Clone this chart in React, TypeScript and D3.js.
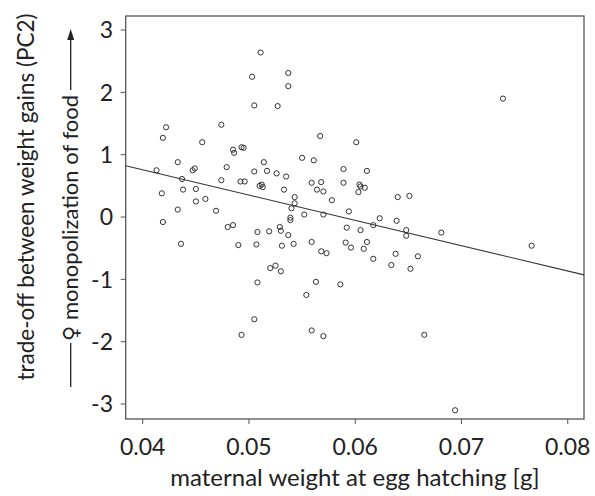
import React from "react";
import * as d3 from "d3";

// maternal weight at egg hatching [g]
const weights: number[] = [
  0.0422, 0.0474, 0.0419, 0.0456, 0.0485, 0.0486, 0.0493, 0.0495, 0.0433, 0.0479,
  0.0413, 0.0447, 0.0449, 0.0437, 0.0474, 0.0492, 0.0496, 0.0418, 0.0438, 0.0450,
  0.0450, 0.0459, 0.0433, 0.0469, 0.0419, 0.0480, 0.0485, 0.0436, 0.0490, 0.0567,
  0.0601, 0.0550, 0.0561, 0.0514, 0.0589, 0.0611, 0.0505, 0.0517, 0.0526, 0.0535,
  0.0510, 0.0512, 0.0513, 0.0559, 0.0568, 0.0589, 0.0604, 0.0609, 0.0603, 0.0605,
  0.0533, 0.0564, 0.0570, 0.0578, 0.0543, 0.0543, 0.0540, 0.0594, 0.0552, 0.0570,
  0.0539, 0.0539, 0.0529, 0.0530, 0.0508, 0.0519, 0.0592, 0.0605, 0.0537, 0.0507,
  0.0531, 0.0542, 0.0559, 0.0591, 0.0596, 0.0608, 0.0611, 0.0568, 0.0573, 0.0520,
  0.0525, 0.0530, 0.0508, 0.0563, 0.0586, 0.0640, 0.0651, 0.0623, 0.0639, 0.0617,
  0.0648, 0.0648, 0.0681, 0.0617, 0.0638, 0.0659, 0.0634, 0.0652, 0.0511, 0.0503,
  0.0537, 0.0537, 0.0505, 0.0527, 0.0505, 0.0493, 0.0554, 0.0559, 0.0570, 0.0665,
  0.0694, 0.0739, 0.0766,
];

// trade-off between weight gains (PC2)
const pc2: number[] = [
  1.44, 1.48, 1.27, 1.20, 1.08, 1.03, 1.12, 1.11, 0.88, 0.80,
  0.75, 0.75, 0.78, 0.61, 0.59, 0.57, 0.57, 0.38, 0.44, 0.45,
  0.25, 0.29, 0.12, 0.10, -0.08, -0.16, -0.13, -0.43, -0.45, 1.30,
  1.20, 0.95, 0.91, 0.88, 0.77, 0.74, 0.73, 0.74, 0.70, 0.65,
  0.50, 0.52, 0.48, 0.55, 0.56, 0.55, 0.52, 0.47, 0.40, 0.49,
  0.44, 0.44, 0.41, 0.27, 0.32, 0.22, 0.14, 0.09, 0.04, 0.04,
  -0.01, -0.05, -0.16, -0.22, -0.24, -0.23, -0.17, -0.21, -0.29, -0.44,
  -0.46, -0.43, -0.40, -0.41, -0.49, -0.51, -0.40, -0.55, -0.58, -0.82,
  -0.78, -0.87, -1.05, -1.04, -1.08, 0.32, 0.34, -0.02, -0.06, -0.13,
  -0.21, -0.30, -0.25, -0.67, -0.59, -0.63, -0.77, -0.83, 2.64, 2.25,
  2.31, 2.10, 1.79, 1.78, -1.64, -1.89, -1.25, -1.82, -1.91, -1.89,
  -3.10, 1.90, -0.46,
];

const xTicks: number[] = [0.04, 0.05, 0.06, 0.07, 0.08];
const yTicks: number[] = [3, 2, 1, 0, -1, -2, -3];

// fitted regression line: PC2 = intercept + slope * weight
const fitIntercept = 2.382;
const fitSlope = -40.6;

const xDomain: [number, number] = [0.0384, 0.08153];
const yDomain: [number, number] = [-3.24, 3.225];

const W = 595;
const H = 496;
const M = { left: 125.7, right: 584, top: 16, bottom: 419 };
const FONT = "Lato, 'Open Sans', sans-serif";
const INK = "#222";

export default function App() {
  const x = d3.scaleLinear().domain(xDomain).range([M.left, M.right]);
  const y = d3.scaleLinear().domain(yDomain).range([M.bottom, M.top]);

  const fitLine = d3
    .line<number>()
    .x((d) => x(d))
    .y((d) => y(fitIntercept + fitSlope * d));

  const pts = weights.map((w, i) => ({ w, v: pc2[i] }));

  const arrowX = 70.7;

  return (
    <svg
      width={W}
      height={H}
      style={{ position: "absolute", left: 0, top: 0, background: "#fff" }}
      fontFamily={FONT}
    >
      <rect x={0} y={0} width={W} height={H} fill="#fff" />
      {/* frame */}
      <rect
        x={M.left}
        y={M.top}
        width={M.right - M.left}
        height={M.bottom - M.top}
        fill="none"
        stroke="#555"
        strokeWidth={1.3}
      />
      {/* regression line */}
      <path d={fitLine(xDomain) || ""} fill="none" stroke="#333" strokeWidth={1.1} />
      {/* points */}
      {pts.map((p, i) => (
        <circle
          key={i}
          cx={x(p.w)}
          cy={y(p.v)}
          r={2.6}
          fill="none"
          stroke="#333"
          strokeWidth={1}
        />
      ))}
      {/* x axis */}
      {xTicks.map((t) => (
        <g key={t}>
          <line x1={x(t)} x2={x(t)} y1={M.bottom} y2={M.bottom + 5} stroke="#555" strokeWidth={1} />
          <text x={x(t)} y={455} textAnchor="middle" fontSize={23} fill={INK}>
            {d3.format(".2f")(t)}
          </text>
        </g>
      ))}
      <text x={355} y={486} textAnchor="middle" fontSize={24} fill={INK}>
        maternal weight at egg hatching [g]
      </text>
      {/* y axis */}
      {yTicks.map((t) => (
        <g key={t}>
          <line x1={M.left - 5} x2={M.left} y1={y(t)} y2={y(t)} stroke="#555" strokeWidth={1} />
          <text x={113} y={y(t)} dy="0.36em" textAnchor="end" fontSize={23} fill={INK}>
            {t}
          </text>
        </g>
      ))}
      <text
        transform={`translate(34,197) rotate(-90)`}
        textAnchor="middle"
        fontSize={22.5}
        fill={INK}
      >
        trade-off between weight gains (PC2)
      </text>
      <text
        transform={`translate(${arrowX + 7.5},218) rotate(-90)`}
        textAnchor="middle"
        fontSize={22}
        fill={INK}
      >
        <tspan fontFamily="'DejaVu Sans'" fontSize={21}>♀</tspan>
        <tspan> monopolization of food</tspan>
      </text>
      <line x1={arrowX} x2={arrowX} y1={387} y2={343} stroke={INK} strokeWidth={1.3} />
      <line x1={arrowX} x2={arrowX} y1={90} y2={38} stroke={INK} strokeWidth={1.3} />
      <path
        d={`M${arrowX - 3.5},40 L${arrowX + 3.5},40 L${arrowX},29 Z`}
        fill={INK}
      />
    </svg>
  );
}
